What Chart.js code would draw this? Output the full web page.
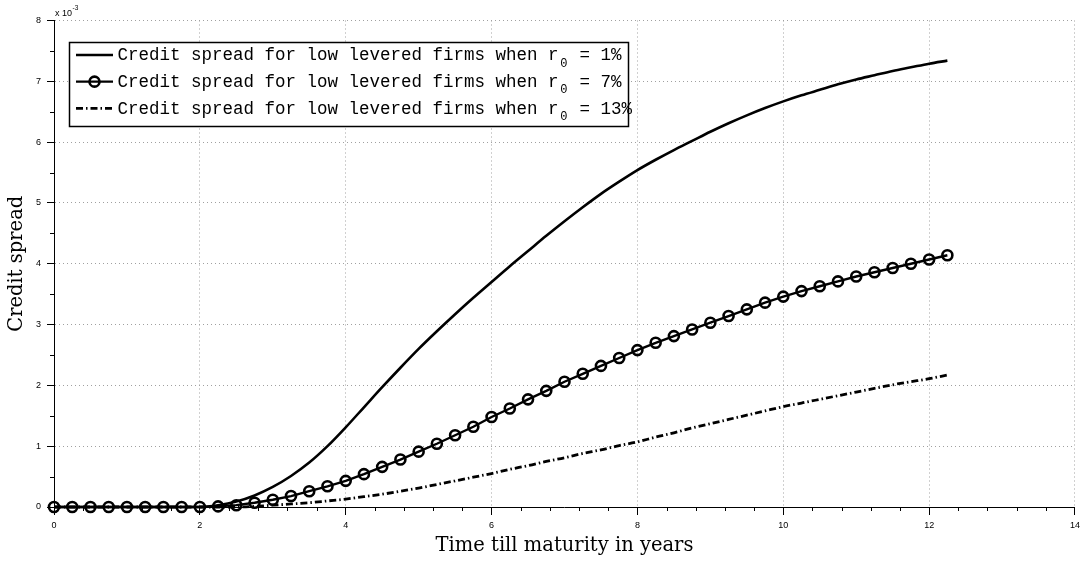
<!DOCTYPE html>
<html>
<head>
<meta charset="utf-8">
<script src="https://cdn.jsdelivr.net/npm/chart.js@4/dist/chart.umd.min.js"></script>
<style>
html,body{margin:0;padding:0;background:#fff;}
#wrap{width:1085px;height:561px;position:relative;}
</style>
</head>
<body>
<div id="wrap"><canvas id="c" width="1085" height="561"></canvas></div>
<script>
// ---- data (credit spread in units of 10^-3) ----
const maturities = [0,0.25,0.5,0.75,1,1.25,1.5,1.75,2,2.25,2.5,2.75,3,3.25,3.5,3.75,4,4.25,4.5,4.75,5,5.25,5.5,5.75,6,6.25,6.5,6.75,7,7.25,7.5,7.75,8,8.25,8.5,8.75,9,9.25,9.5,9.75,10,10.25,10.5,10.75,11,11.25,11.5,11.75,12,12.25];
const spreadR1 = [0,0,0,0,0,0,0,0,0,0.03,0.09,0.19,0.33,0.51,0.73,1.00,1.31,1.64,1.97,2.29,2.60,2.89,3.17,3.44,3.70,3.96,4.21,4.46,4.70,4.93,5.15,5.35,5.54,5.71,5.87,6.02,6.17,6.31,6.44,6.56,6.67,6.77,6.86,6.95,7.03,7.10,7.17,7.23,7.29,7.34];
const spreadR7 = [0,0,0,0,0,0,0,0,0,0.01,0.03,0.07,0.12,0.18,0.26,0.34,0.43,0.54,0.66,0.78,0.91,1.04,1.18,1.32,1.48,1.62,1.77,1.91,2.06,2.19,2.32,2.45,2.58,2.70,2.81,2.92,3.03,3.14,3.25,3.36,3.46,3.55,3.63,3.71,3.79,3.86,3.93,4.00,4.07,4.14];
const spreadR13 = [0,0,0,0,0,0,0,0,0,0,0,0.01,0.03,0.05,0.07,0.10,0.13,0.17,0.21,0.26,0.31,0.37,0.43,0.49,0.55,0.62,0.68,0.75,0.81,0.88,0.94,1.01,1.07,1.15,1.22,1.30,1.37,1.44,1.51,1.58,1.65,1.71,1.77,1.83,1.89,1.95,2.01,2.06,2.11,2.17];
const legendPrefix = 'Credit spread for low levered firms when r';
const legendSub = '0';
const legendSuffixes = [' = 1%', ' = 7%', ' = 13%'];
const xTickLabels = [0,2,4,6,8,10,12,14];
const yTickLabels = [0,1,2,3,4,5,6,7,8];
const yExponentText = ['x 10', '-3'];
const xTitle = 'Time till maturity in years';
const yTitle = 'Credit spread';

const toPts = arr => arr.map((v, i) => ({x: maturities[i], y: v}));

const DASHDOT = [7, 3, 1.5, 3];

const decorPlugin = {
  id: 'decor',
  afterDraw(chart) {
    const {ctx, chartArea: a, scales: {x, y}} = chart;
    ctx.save();
    // minor ticks
    ctx.strokeStyle = '#000';
    ctx.lineWidth = 1;
    ctx.setLineDash([]);
    ctx.beginPath();
    for (let i = 1; i < 35; i++) {
      if (i % 5 === 0) continue;
      const px = Math.round(x.getPixelForValue(i * 0.4)) + 0.5;
      ctx.moveTo(px, a.bottom); ctx.lineTo(px, a.bottom + 4);
    }
    for (let i = 1; i < 16; i += 2) {
      const py = Math.round(y.getPixelForValue(i * 0.5)) + 0.5;
      ctx.moveTo(a.left - 4, py); ctx.lineTo(a.left, py);
    }
    ctx.stroke();

    // exponent label
    ctx.fillStyle = '#000';
    ctx.textBaseline = 'alphabetic';
    ctx.textAlign = 'left';
    ctx.font = '9px "Liberation Sans"';
    ctx.fillText(yExponentText[0], a.left + 1, 16);
    const w0 = ctx.measureText(yExponentText[0]).width;
    ctx.font = '6.5px "Liberation Sans"';
    ctx.fillText(yExponentText[1], a.left + 1 + w0 + 0.5, 10);

    // legend
    const bx = 69.5, by = 42.5, bw = 559, bh = 84;
    ctx.fillStyle = '#fff';
    ctx.fillRect(bx, by, bw, bh);
    ctx.strokeStyle = '#000';
    ctx.lineWidth = 1.5;
    ctx.strokeRect(bx, by, bw, bh);
    const ds = chart.data.datasets;
    const mono = '17.5px "Liberation Mono"';
    for (let r = 0; r < 3; r++) {
      const cy = 55 + r * 26.65;
      const d = ds[r];
      ctx.save();
      ctx.strokeStyle = '#000';
      ctx.lineWidth = d.borderWidth;
      ctx.setLineDash(d.borderDash || []);
      ctx.beginPath();
      ctx.moveTo(76, cy); ctx.lineTo(113, cy);
      ctx.stroke();
      if (d.pointRadius > 0) {
        ctx.setLineDash([]);
        ctx.lineWidth = d.pointBorderWidth;
        ctx.beginPath();
        ctx.arc(94.5, cy, d.pointRadius, 0, Math.PI * 2);
        ctx.stroke();
      }
      ctx.restore();
      ctx.fillStyle = '#000';
      ctx.font = mono;
      const cw = ctx.measureText('M').width;
      const base = cy + 5.4;
      const tx = 117.5;
      ctx.fillText(legendPrefix, tx, base);
      const wp = ctx.measureText(legendPrefix).width;
      ctx.font = '12px "Liberation Mono"';
      const sw = ctx.measureText(legendSub).width;
      ctx.fillText(legendSub, tx + wp + (cw - sw) / 2, base + 6.3);
      ctx.font = mono;
      ctx.fillText(legendSuffixes[r], tx + wp + cw, base);
    }
    ctx.restore();
  }
};

const tickFont = {family: 'Liberation Sans', size: 9};
const titleFont = {family: 'DejaVu Serif', size: 19.5};

new Chart(document.getElementById('c'), {
  type: 'line',
  data: {
    datasets: [
      {label: legendPrefix + legendSub + legendSuffixes[0], data: toPts(spreadR1), borderColor: '#000', borderWidth: 2.6, pointRadius: 0, cubicInterpolationMode: 'monotone', clip: false},
      {label: legendPrefix + legendSub + legendSuffixes[1], data: toPts(spreadR7), borderColor: '#000', borderWidth: 2.4, tension: 0,
       pointRadius: 5, pointHoverRadius: 5, pointStyle: 'circle', pointBorderWidth: 2.6, pointBorderColor: '#000', pointBackgroundColor: 'rgba(0,0,0,0)', clip: false},
      {label: legendPrefix + legendSub + legendSuffixes[2], data: toPts(spreadR13), borderColor: '#000', borderWidth: 2.8, borderDash: DASHDOT, pointRadius: 0, cubicInterpolationMode: 'monotone', clip: false}
    ]
  },
  options: {
    responsive: false,
    animation: false,
    devicePixelRatio: 1,
    layout: {padding: {top: 20.5, right: 8.3, left: 0, bottom: 0}},
    plugins: {legend: {display: false}, tooltip: {enabled: false}},
    events: [],
    scales: {
      x: {
        type: 'linear', min: xTickLabels[0], max: xTickLabels[xTickLabels.length - 1],
        afterBuildTicks: s => { s.ticks = xTickLabels.map(v => ({value: v})); },
        afterFit: s => { s.height = 54; },
        ticks: {font: tickFont, color: '#000', padding: 5, maxRotation: 0, callback: v => String(v)},
        grid: {color: '#a0a0a0', lineWidth: 1, drawTicks: true, tickLength: 8, tickColor: '#000', tickWidth: 1},
        border: {display: true, color: '#000', width: 1, dash: [1, 3]},
        title: {display: true, text: xTitle, font: titleFont, color: '#000', padding: {top: 0, bottom: 3}}
      },
      y: {
        type: 'linear', min: yTickLabels[0], max: yTickLabels[yTickLabels.length - 1],
        afterBuildTicks: s => { s.ticks = yTickLabels.map(v => ({value: v})); },
        afterFit: s => { s.width = 54; },
        ticks: {font: tickFont, color: '#000', padding: 6, callback: v => String(v)},
        grid: {color: '#a0a0a0', lineWidth: 1, drawTicks: true, tickLength: 7, tickColor: '#000', tickWidth: 1},
        border: {display: true, color: '#000', width: 1, dash: [1, 3]},
        title: {display: true, text: yTitle, font: titleFont, color: '#000', padding: {top: 5, bottom: 0}}
      }
    }
  },
  plugins: [decorPlugin]
});
</script>
</body>
</html>
